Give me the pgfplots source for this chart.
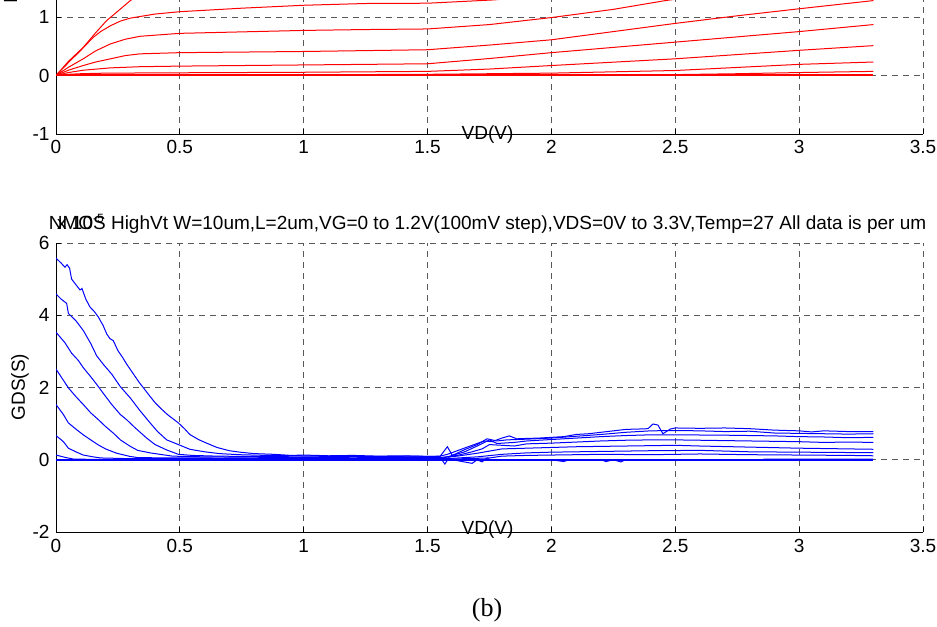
\documentclass[border=0pt]{standalone}
\usepackage{pgfplots}
\pgfplotsset{compat=1.18}
\usepackage{fontspec}
\setmainfont{Liberation Sans}
\newfontfamily\capfont{Liberation Serif}

\pgfplotsset{
  mlab/.style={
    scale only axis, width=867bp,
    xmin=0, xmax=3.5,
    axis x line=bottom, axis y line=left,
    axis line style={-, line width=0.8bp, black},
    xtick={0,0.5,1,1.5,2,2.5,3,3.5},
    xticklabels={0,0.5,1,1.5,2,2.5,3,3.5},
    grid=major,
    major grid style={black!65, dash pattern=on 6bp off 5bp, line width=0.8bp},
    tick align=inside, major tick length=5bp,
    tick style={black, line width=0.8bp},
    /pgf/number format/assume math mode=true,
    ticklabel style={font=\fontsize{19bp}{22bp}\selectfont},
    clip=true,
  },
  redc/.style={color={rgb,1:red,1;green,0;blue,0}, line width=1bp, no marks},
  bluc/.style={color={rgb,1:red,0;green,0;blue,1}, line width=1bp, no marks},
}

\begin{document}
\fontsize{19bp}{22bp}\selectfont
\begin{tikzpicture}
\useasboundingbox (0,0) rectangle (937bp,627bp);
\clip (0,0) rectangle (937bp,627bp);

% ---------------- top axis: ID ----------------
\begin{axis}[mlab, at={(56bp,493bp)}, anchor=south west, height=134bp,
  xticklabel style={yshift=0bp},
  ymin=-1, ymax=1.29, ytick={-1,0,1}, yticklabels={-1,0,1}]
\addplot[redc] coordinates {(0,0)(0.05,0.24)(0.11,0.48)(0.16,0.73)(0.205,0.94)(0.25,1.10)(0.30,1.28)(0.35,1.42)(0.40,1.52)(0.5,1.62)(1.0,1.75)(2.0,1.95)(3.3,2.3)};
\addplot[redc] coordinates {(0,0)(0.05,0.22)(0.10,0.43)(0.15,0.65)(0.18,0.75)(0.22,0.85)(0.26,0.93)(0.30,0.98)(0.40,1.05)(0.50,1.09)(0.75,1.15)(1.0,1.20)(1.25,1.23)(1.5,1.235)(1.76,1.29)(2.0,1.36)(3.3,1.9)};
\addplot[redc] coordinates {(0,0)(0.05,0.14)(0.11,0.285)(0.16,0.42)(0.22,0.54)(0.28,0.62)(0.34,0.67)(0.5,0.72)(0.75,0.745)(1.0,0.77)(1.25,0.785)(1.5,0.795)(1.75,0.87)(2.0,0.99)(2.25,1.13)(2.46,1.28)(2.6,1.36)(3.3,1.7)};
\addplot[redc] coordinates {(0,0)(0.05,0.09)(0.11,0.17)(0.16,0.23)(0.22,0.285)(0.28,0.34)(0.34,0.37)(0.5,0.39)(0.75,0.40)(1.0,0.41)(1.25,0.425)(1.5,0.44)(1.75,0.52)(2.0,0.61)(2.25,0.75)(2.5,0.89)(2.75,1.02)(3.0,1.14)(3.3,1.28)};
\addplot[redc] coordinates {(0,0)(0.05,0.05)(0.11,0.09)(0.22,0.13)(0.34,0.15)(0.5,0.16)(1.0,0.18)(1.5,0.20)(1.75,0.29)(2.0,0.39)(2.5,0.57)(3.0,0.75)(3.3,0.87)};
\addplot[redc] coordinates {(0,0)(0.05,0.02)(0.1,0.03)(0.2,0.04)(0.5,0.046)(1.0,0.055)(1.5,0.07)(1.75,0.11)(2.0,0.17)(2.5,0.285)(3.0,0.43)(3.3,0.51)};
\addplot[redc] coordinates {(0,0)(0.1,0.008)(0.5,0.01)(1.0,0.012)(1.5,0.02)(2.0,0.04)(2.5,0.085)(3.0,0.19)(3.3,0.23)};
\addplot[redc] coordinates {(0,0)(1.5,0.003)(2.0,0.008)(2.5,0.015)(2.75,0.03)(3.0,0.05)(3.3,0.07)};
\addplot[redc, line width=2bp] coordinates {(0,0)(3.3,0)};
\end{axis}

% ---------------- bottom axis: GDS ----------------
\begin{axis}[mlab, at={(56bp,95bp)}, anchor=south west, height=289bp,
  xticklabel style={yshift=-1bp},
  ymin=-2, ymax=6, ytick={-2,0,2,4,6}, yticklabels={-2,0,2,4,6}]
\addplot[bluc] coordinates {(0,5.58)(0.02,5.45)(0.036,5.33)(0.045,5.40)(0.055,5.30)(0.063,5.0)(0.08,4.85)(0.097,4.70)(0.105,4.74)(0.12,4.45)(0.137,4.23)(0.155,4.10)(0.171,3.95)(0.19,3.72)(0.205,3.48)(0.218,3.35)(0.231,3.30)(0.25,3.02)(0.27,2.82)(0.285,2.65)(0.31,2.40)(0.335,2.15)(0.352,2.00)(0.38,1.75)(0.40,1.58)(0.42,1.44)(0.45,1.25)(0.475,1.12)(0.494,1.02)(0.52,0.85)(0.54,0.70)(0.575,0.56)(0.608,0.46)(0.65,0.34)(0.70,0.25)(0.742,0.21)(0.80,0.17)(0.88,0.15)(0.95,0.12)(1.0,0.13)(1.1,0.11)(1.2,0.12)(1.3,0.10)(1.4,0.11)(1.5,0.09)(1.55,0.10)(1.58,0.15)(1.62,0.25)(1.66,0.35)(1.70,0.45)(1.73,0.52)(1.76,0.50)(1.80,0.60)(1.83,0.66)(1.86,0.58)(1.90,0.59)(1.95,0.60)(2.00,0.62)(2.05,0.64)(2.10,0.70)(2.15,0.72)(2.20,0.76)(2.25,0.80)(2.30,0.84)(2.35,0.85)(2.39,0.86)(2.41,0.99)(2.43,0.96)(2.45,0.72)(2.48,0.85)(2.5,0.88)(2.6,0.87)(2.7,0.88)(2.8,0.86)(2.9,0.82)(3.0,0.80)(3.05,0.77)(3.1,0.80)(3.2,0.78)(3.3,0.78)};
\addplot[bluc] coordinates {(0,4.59)(0.02,4.45)(0.043,4.33)(0.05,4.05)(0.08,3.85)(0.11,3.58)(0.14,3.22)(0.164,2.88)(0.19,2.65)(0.225,2.37)(0.26,2.02)(0.30,1.71)(0.34,1.35)(0.38,1.02)(0.41,0.78)(0.447,0.55)(0.494,0.42)(0.54,0.29)(0.60,0.22)(0.66,0.17)(0.74,0.14)(0.85,0.12)(1.0,0.11)(1.15,0.10)(1.3,0.09)(1.45,0.10)(1.55,0.09)(1.58,0.36)(1.60,0.12)(1.65,0.28)(1.70,0.42)(1.74,0.58)(1.78,0.52)(1.82,0.55)(1.90,0.57)(2.0,0.60)(2.1,0.65)(2.2,0.70)(2.3,0.76)(2.4,0.80)(2.5,0.81)(2.6,0.80)(2.7,0.78)(2.8,0.79)(2.9,0.74)(3.0,0.73)(3.1,0.72)(3.2,0.71)(3.3,0.72)};
\addplot[bluc] coordinates {(0,3.53)(0.036,3.24)(0.063,2.95)(0.09,2.75)(0.11,2.55)(0.14,2.30)(0.164,2.09)(0.195,1.80)(0.225,1.53)(0.26,1.25)(0.285,1.11)(0.32,0.88)(0.366,0.60)(0.40,0.42)(0.447,0.27)(0.494,0.15)(0.55,0.12)(0.65,0.10)(0.8,0.09)(1.0,0.08)(1.2,0.09)(1.4,0.08)(1.55,0.07)(1.57,-0.12)(1.59,0.10)(1.65,0.22)(1.70,0.38)(1.75,0.55)(1.78,0.45)(1.85,0.48)(1.9,0.52)(2.0,0.56)(2.1,0.60)(2.2,0.64)(2.3,0.67)(2.4,0.69)(2.5,0.69)(2.7,0.68)(2.9,0.66)(3.0,0.64)(3.1,0.63)(3.2,0.61)(3.3,0.62)};
\addplot[bluc] coordinates {(0,2.51)(0.05,1.99)(0.08,1.75)(0.11,1.53)(0.14,1.30)(0.171,1.11)(0.20,0.92)(0.231,0.74)(0.26,0.55)(0.30,0.37)(0.33,0.26)(0.38,0.19)(0.47,0.10)(0.6,0.08)(0.8,0.07)(1.0,0.06)(1.2,0.07)(1.4,0.06)(1.55,0.06)(1.62,0.12)(1.68,0.22)(1.72,0.30)(1.75,0.42)(1.8,0.40)(1.85,0.38)(1.9,0.44)(2.0,0.46)(2.1,0.49)(2.2,0.52)(2.3,0.54)(2.4,0.55)(2.5,0.55)(2.6,0.54)(2.8,0.52)(3.0,0.50)(3.1,0.48)(3.2,0.49)(3.3,0.48)};
\addplot[bluc] coordinates {(0,1.53)(0.03,1.25)(0.05,1.02)(0.08,0.85)(0.11,0.69)(0.14,0.55)(0.171,0.41)(0.20,0.30)(0.245,0.18)(0.30,0.09)(0.33,0.06)(0.45,0.05)(0.6,0.05)(0.8,0.04)(1.0,0.05)(1.2,0.04)(1.4,0.05)(1.55,0.05)(1.62,0.10)(1.7,0.18)(1.75,0.24)(1.8,0.30)(1.9,0.32)(2.0,0.34)(2.1,0.36)(2.3,0.38)(2.5,0.40)(2.6,0.38)(2.8,0.35)(3.0,0.32)(3.1,0.31)(3.2,0.30)(3.3,0.29)};
\addplot[bluc] coordinates {(0,0.67)(0.03,0.50)(0.05,0.32)(0.08,0.22)(0.11,0.13)(0.15,0.08)(0.18,0.05)(0.3,0.03)(0.6,0.03)(1.0,0.03)(1.4,0.03)(1.6,0.04)(1.7,0.08)(1.8,0.15)(1.9,0.19)(2.0,0.21)(2.2,0.23)(2.4,0.25)(2.6,0.26)(2.8,0.22)(3.0,0.21)(3.2,0.20)(3.3,0.20)};
\addplot[bluc] coordinates {(0,0.13)(0.04,0.06)(0.07,0.02)(0.15,0.01)(0.5,0.01)(1.0,0.01)(1.5,0.01)(1.6,0.02)(1.75,0.05)(1.8,0.10)(1.9,0.12)(2.0,0.13)(2.2,0.15)(2.4,0.14)(2.6,0.16)(2.8,0.14)(3.0,0.13)(3.2,0.12)(3.3,0.11)};
\addplot[bluc] coordinates {(0,0)(1.6,0)(1.68,-0.10)(1.70,0)(1.72,-0.06)(1.74,0.05)(1.76,-0.02)(1.8,0)(2.0,0)(2.05,-0.05)(2.07,0)(2.2,0)(2.22,-0.05)(2.25,0)(2.28,-0.06)(2.30,0)(2.85,0)(2.86,0.02)(3.3,0.02)};
\addplot[bluc, line width=2bp] coordinates {(0,0)(3.3,0)};
\end{axis}

% labels and title
\node at (487.5bp,492bp) {VD(V)};
\node at (487.5bp,97bp) {VD(V)};
\node[rotate=90, anchor=center] at (20bp,240bp) {GDS(S)};
\node[rotate=90, anchor=base west] at (17bp,617bp) {ID(A)};
\node[anchor=base, inner sep=0pt] at (487.5bp,397bp) {NMOS HighVt W=10um,L=2um,VG=0 to 1.2V(100mV step),VDS=0V to 3.3V,Temp=27 All data is per um};
\node[anchor=base west, inner sep=0pt] at (57bp,397bp) {x 10\raisebox{7bp}{\fontsize{12bp}{14bp}\selectfont -5}};
\node[font=\capfont\fontsize{26bp}{30bp}\selectfont] at (487bp,17bp) {(b)};
\end{tikzpicture}
\end{document}
